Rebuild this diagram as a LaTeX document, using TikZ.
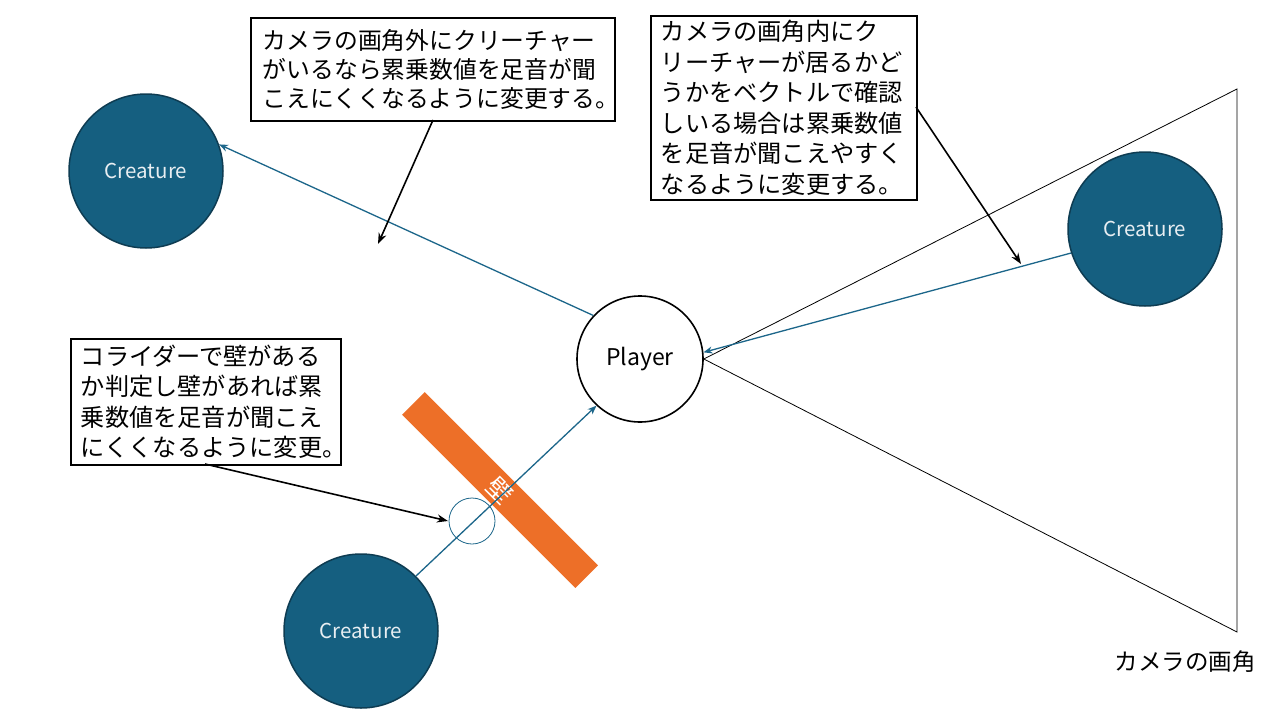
\documentclass[tikz,border=0pt]{standalone}
\usepackage{fontspec}
\setmainfont{Noto Sans CJK JP}
\usetikzlibrary{arrows.meta}
\definecolor{crfill}{RGB}{21,95,128}
\definecolor{crline}{RGB}{14,60,82}
\definecolor{linkblue}{RGB}{28,102,138}
\definecolor{wallorange}{RGB}{237,111,40}
\definecolor{crtext}{RGB}{232,238,242}
\tikzset{
  creature/.style={circle, draw=crline, line width=1.5pt, fill=crfill, minimum size=154pt, inner sep=0pt, text=crtext, font=\fontsize{20.5}{24}\selectfont},
  playerbox/.style={circle, draw=black, line width=1.6pt, fill=white, minimum size=126pt, inner sep=0pt, font=\fontsize{23}{26}\selectfont},
  notebox/.style={draw=black, line width=1.6pt, fill=white, align=left, inner xsep=10pt, inner ysep=0pt, anchor=north west},
  bluearrow/.style={draw=linkblue, line width=1.3pt, -{Stealth[length=9pt,width=7pt]}},
  notearrow/.style={draw=black, line width=1.6pt, -{Stealth[length=11pt,width=8pt]}},
  wallbar/.style={rectangle, fill=wallorange, minimum width=245pt, minimum height=32pt, inner sep=0pt, text=white, font=\fontsize{25}{27}\selectfont},
  hitring/.style={circle, draw=linkblue, line width=0.8pt, minimum size=46pt, inner sep=0pt},
  camline/.style={draw=black, line width=0.8pt}
}
\begin{document}
\begin{tikzpicture}[x=1pt,y=-1pt]
\useasboundingbox (0,0) rectangle (1280,720);
\fill[white] (0,0) rectangle (1280,720);
% player and camera frustum
\node[playerbox] (player) at (640,359) {Player};
\coordinate (camtop) at (1237,89);
\coordinate (cambot) at (1237,632);
\draw[camline] (player.east) -- (camtop) -- (cambot) -- cycle;
% wall
\node[wallbar, rotate=-45] (wall) at (500,490) {壁};
% creatures
\node[creature] (c1) at (146,171) {Creature};
\node[creature] (c2) at (1145,229) {Creature};
\node[creature] (c3) at (361,631) {Creature};
\node[hitring] (ring) at (472,521) {};
% blue arrows
\draw[bluearrow] (player.137) -- (c1.20);
\draw[bluearrow] (c2.198) -- (player.6);
\draw[bluearrow] (c3.45) -- (player.227);
% notes
\node[notebox, inner xsep=12pt, text width=340pt, minimum height=103pt, font=\fontsize{23.8}{29}\selectfont] (n1) at (250,17) {カメラの画角外にクリーチャー\\がいるなら累乗数値を足音が聞\\こえにくくなるように変更する。};
\node[notebox, text width=246pt, minimum height=184pt, font=\fontsize{24.2}{30.5}\selectfont] (n2) at (650,15) {カメラの画角内にク\\リーチャーが居るかど\\うかをベクトルで確認\\しいる場合は累乗数値\\を足音が聞こえやすく\\なるように変更する。};
\node[notebox, text width=250pt, minimum height=126pt, font=\fontsize{24.2}{30.5}\selectfont] (n3) at (70,338) {コライダーで壁がある\\か判定し壁があれば累\\乗数値を足音が聞こえ\\にくくなるように変更。};
\coordinate (s1) at (433,120);
\coordinate (s2) at (916,107);
\coordinate (s3) at (205,464);
\coordinate (t1) at (378,244);
\coordinate (t2) at (1021,264);
\coordinate (t3) at (448,521);
\draw[notearrow] (s1) -- (t1);
\draw[notearrow] (s2) -- (t2);
\draw[notearrow] (s3) -- (t3);
\node[font=\fontsize{23.5}{26}\selectfont] (camlabel) at (1185,662) {カメラの画角};
\end{tikzpicture}
\end{document}
